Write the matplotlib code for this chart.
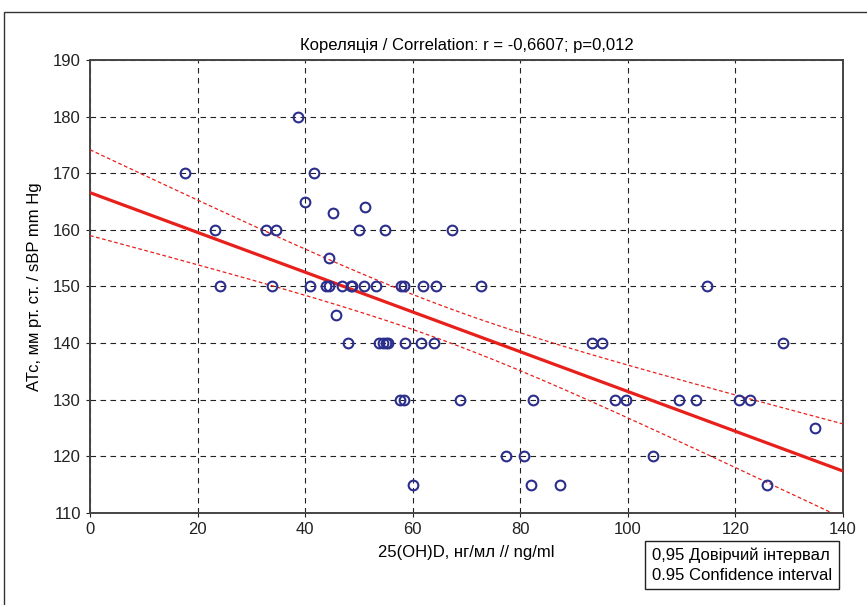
import numpy as np
import matplotlib
matplotlib.use('Agg')
import matplotlib.pyplot as plt
from matplotlib.patches import Rectangle

# 25(OH)D values (ng/ml) and matching systolic BP (mm Hg)
vit_d = [17.7, 38.6, 41.7, 40.0, 45.2, 51.2,
         23.3, 32.8, 34.6, 50.0, 54.8, 67.3,
         44.4,
         24.2, 33.8, 40.9, 43.8, 44.4, 46.8, 48.5, 48.8, 51.0, 53.2,
         57.8, 58.3, 61.9, 64.3, 72.7, 114.8,
         45.7,
         47.9, 53.7, 54.5, 55.0, 55.4, 58.5, 61.5, 64.0, 93.4, 95.1, 128.8,
         57.6, 58.4, 68.7, 82.4, 97.7, 99.7, 109.6, 112.6, 120.7, 122.8,
         134.8,
         77.3, 80.7, 104.7,
         60.1, 82.0, 87.4, 125.8]
sbp = [170, 180, 170, 165, 163, 164,
       160, 160, 160, 160, 160, 160,
       155,
       150, 150, 150, 150, 150, 150, 150, 150, 150, 150,
       150, 150, 150, 150, 150, 150,
       145,
       140, 140, 140, 140, 140, 140, 140, 140, 140, 140, 140,
       130, 130, 130, 130, 130, 130, 130, 130, 130, 130,
       125,
       120, 120, 120,
       115, 115, 115, 115]

x_ticks = [0, 20, 40, 60, 80, 100, 120, 140]
y_ticks = [110, 120, 130, 140, 150, 160, 170, 180, 190]

title = 'Кореляція / Correlation: r = -0,6607; p=0,012'
x_label = '25(OH)D, нг/мл // ng/ml'
y_label = 'АТс, мм рт. ст. / sBP mm Hg'
legend_lines = ['0,95 Довірчий інтервал', '0.95 Confidence interval']

plt.rcParams['font.family'] = ['Liberation Sans', 'DejaVu Sans']


def create_chart():
    x = np.array(vit_d)
    y = np.array(sbp)
    n = len(x)

    # linear fit and 95% confidence band for the mean
    slope, intercept = np.polyfit(x, y, 1)
    xs = np.linspace(0, 140, 200)
    fit = intercept + slope * xs
    resid = y - (intercept + slope * x)
    s = np.sqrt(np.sum(resid ** 2) / (n - 2))
    sxx = np.sum((x - x.mean()) ** 2)
    t_val = 2.002
    half = t_val * s * np.sqrt(1 / n + (xs - x.mean()) ** 2 / sxx)

    fig = plt.figure(figsize=(8.67, 6.05), dpi=100)
    ax = fig.add_axes([90 / 867, 1 - 513 / 605, 753 / 867, 453 / 605])

    ax.grid(True, color='#222222', linestyle=(0, (5, 4)), linewidth=0.8)
    ax.set_axisbelow(True)

    ax.plot(xs, fit, color='#e8201c', lw=2.3, zorder=3)
    ax.plot(xs, fit + half, color='#e8201c', lw=0.9, ls=(0, (3, 2)), zorder=3)
    ax.plot(xs, fit - half, color='#e8201c', lw=0.9, ls=(0, (3, 2)), zorder=3)

    ax.plot(x, y, 'o', mfc='none', mec='#2b2e8c', mew=1.5, ms=7, zorder=4)

    ax.set_xlim(0, 140)
    ax.set_ylim(110, 190)
    ax.set_xticks(x_ticks)
    ax.set_yticks(y_ticks)
    ax.tick_params(labelsize=12, length=3, width=0.8, colors='#222222')
    for sp in ax.spines.values():
        sp.set_linewidth(1.4)
        sp.set_color('#444444')

    ax.set_xlabel(x_label, fontsize=12, labelpad=6)
    ax.set_ylabel(y_label, fontsize=12, labelpad=8)
    ax.set_title(title, fontsize=12, pad=7)

    # outer frame of the figure
    fig.patches.append(Rectangle((4 / 867, -0.05), 1.0, 1 - 12 / 605 + 0.05,
                                 transform=fig.transFigure, fill=False,
                                 edgecolor='#333333', lw=1.0))

    # legend box
    fig.text(652 / 867, 1 - 565 / 605, '\n'.join(legend_lines), fontsize=12,
             ha='left', va='center', linespacing=1.4,
             bbox=dict(boxstyle='square,pad=0.4', facecolor='white',
                       edgecolor='#222222', lw=1.0))

    fig.savefig('out.png', dpi=100)
    plt.close(fig)


if __name__ == '__main__':
    create_chart()
